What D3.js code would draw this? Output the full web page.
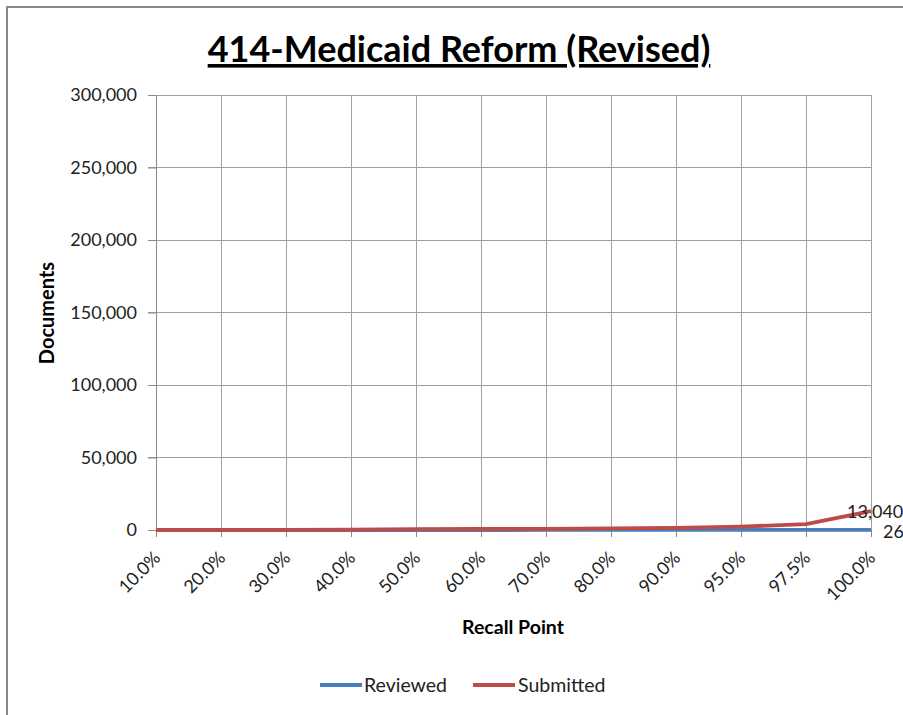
<!DOCTYPE html>
<html><head><meta charset="utf-8">
<script src="https://cdn.jsdelivr.net/npm/d3@7/dist/d3.min.js"></script>
<style>
html,body{margin:0;padding:0;background:#fff;overflow:hidden;}
svg{display:block;font-family:Lato,"Open Sans",sans-serif;}
</style></head>
<body>
<script>
const categories = ["10.0%","20.0%","30.0%","40.0%","50.0%","60.0%","70.0%","80.0%","90.0%","95.0%","97.5%","100.0%"];
const reviewed = [3,5,8,10,13,16,18,20,22,24,25,26];
const submitted = [30,60,100,200,600,700,800,1100,1400,2300,4100,13040];
const yTicks = [0,50000,100000,150000,200000,250000,300000];
const seriesNames = ["Reviewed","Submitted"];
const colors = ["#4a7ebb","#be4b48"];

const W = 903, H = 715;
const svg = d3.select("body").append("svg").attr("width",W).attr("height",H);

// chart frame
svg.append("rect").attr("x",7).attr("y",7).attr("width",W+10).attr("height",H+10)
  .attr("fill","#fff").attr("stroke","#888").attr("stroke-width",2);

const x = d3.scalePoint().domain(categories).range([156,871]);
const y = d3.scaleLinear().domain([0,300000]).range([530,95]);

// horizontal gridlines
svg.append("g").selectAll("line").data(yTicks).join("line")
  .attr("x1",148).attr("x2",871).attr("y1",d=>y(d)).attr("y2",d=>y(d))
  .attr("stroke","#a0a0a0").attr("stroke-width",1).attr("shape-rendering","crispEdges");
// vertical gridlines
svg.append("g").selectAll("line").data(categories).join("line")
  .attr("x1",d=>x(d)).attr("x2",d=>x(d)).attr("y1",95).attr("y2",537)
  .attr("stroke","#a0a0a0").attr("stroke-width",1).attr("shape-rendering","crispEdges");

// y axis
const yAxis = svg.append("g").attr("transform","translate(156,0)")
  .call(d3.axisLeft(y).tickValues(yTicks).tickFormat(d3.format(",")).tickSize(8).tickPadding(11));
yAxis.select(".domain").attr("stroke","#888");
yAxis.selectAll(".tick line").attr("stroke","#888");
yAxis.selectAll("text").attr("font-size",18).attr("fill","#222").attr("font-family","Lato");

// x axis
const xAxis = svg.append("g").attr("transform","translate(0,530)")
  .call(d3.axisBottom(x).tickSize(7).tickSizeOuter(0));
xAxis.select(".domain").attr("stroke","#888");
xAxis.selectAll(".tick line").attr("stroke","#888");
xAxis.selectAll("text").attr("font-size",18).attr("fill","#222").attr("font-family","Lato")
  .attr("text-anchor","end").attr("dy",null).attr("y",0)
  .attr("transform","translate(5,29) rotate(-45)");

// lines
const line = d3.line().x((d,i)=>x(categories[i])).y(d=>y(d));
[reviewed, submitted].forEach((s,k)=>{
  svg.append("path").datum(s).attr("d",line).attr("fill","none")
    .attr("stroke",colors[k]).attr("stroke-width",3.8).attr("stroke-linejoin","round");
});

// data labels
const last = categories.length-1;
svg.append("text").attr("x",x(categories[last])-24).attr("y",y(submitted[last])+7)
  .attr("font-size",18).attr("fill","#222").text(d3.format(",")(submitted[last]));
svg.append("text").attr("x",x(categories[last])+12).attr("y",y(reviewed[last])+8)
  .attr("font-size",18).attr("fill","#222").text(reviewed[last]);

// title
svg.append("text").attr("x",459).attr("y",62).attr("text-anchor","middle")
  .attr("font-size",36).attr("font-weight","bold").attr("fill","#000")
  .attr("text-decoration","underline").text("414-Medicaid Reform (Revised)");

// axis titles
svg.append("text").attr("x",513).attr("y",634).attr("text-anchor","middle")
  .attr("font-size",19.5).attr("font-weight","bold").attr("fill","#000").text("Recall Point");
svg.append("text").attr("transform","translate(54,313) rotate(-90)").attr("text-anchor","middle")
  .attr("font-size",20).attr("font-weight","bold").attr("fill","#000").text("Documents");

// legend
const leg = [{x:320,tx:364},{x:473,tx:518}];
seriesNames.forEach((n,k)=>{
  svg.append("line").attr("x1",leg[k].x).attr("x2",leg[k].x+42).attr("y1",685).attr("y2",685)
    .attr("stroke",colors[k]).attr("stroke-width",3.8);
  svg.append("text").attr("x",leg[k].tx).attr("y",692).attr("font-size",19.5).attr("fill","#222").text(n);
});
</script>
</body></html>
